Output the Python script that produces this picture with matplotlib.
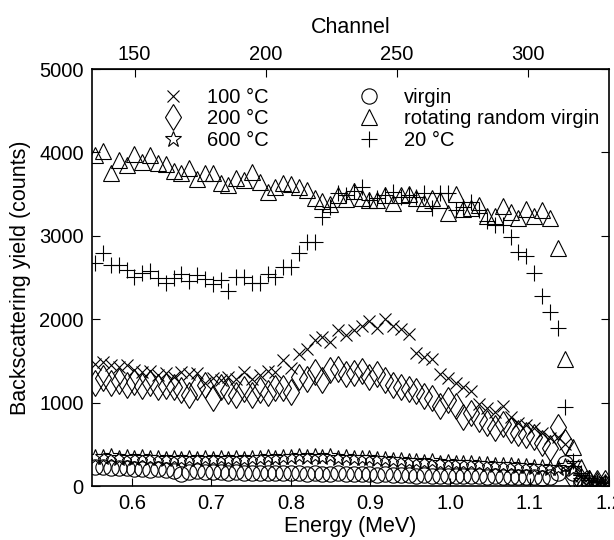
import numpy as np
import matplotlib
matplotlib.use("Agg")
import matplotlib.pyplot as plt

plt.rcParams['font.family'] = ['Liberation Sans', 'DejaVu Sans']

# energy grid of the spectrum points (MeV), 3 channels apart
energy = [0.554 + 0.00985 * i for i in range(66)]

# rotating random virgin (triangles)
random_virgin = [3970, 4020, 3750, 3910, 3850, 3980, 3890, 3970, 3870, 3860,
                 3780, 3750, 3810, 3680, 3750, 3750, 3630, 3610, 3700, 3670,
                 3770, 3650, 3530, 3590, 3630, 3620, 3590, 3550, 3450, 3420,
                 3380, 3490, 3440, 3540, 3450, 3430, 3430, 3490, 3400, 3490,
                 3500, 3450, 3400, 3460, 3430, 3270, 3500, 3320, 3340, 3370,
                 3240, 3240, 3360, 3290, 3210, 3320, 3240, 3310, 3210, 2850,
                 1520, 470, 230, 100, 70, 50]

# 20 C (plus)
t20 = [2675, 2795, 2650, 2650, 2590, 2510, 2555, 2580, 2495, 2435,
       2495, 2540, 2460, 2530, 2480, 2420, 2470, 2340, 2505, 2505,
       2435, 2435, 2540, 2505, 2625, 2625, 2795, 2925, 2925, 3225,
       3345, 3510, 3490, 3540, 3585, 3430, 3455, 3490, 3525, 3465,
       3490, 3465, 3510, 3340, 3510, 3510, 3310, 3345, 3405, 3310,
       3180, 3130, 3130, 2985, 2805, 2760, 2555, 2280, 2090, 1895,
       950, 300, 160, 90, 50, 40]

# 100 C (cross)
t100 = [1463, 1487, 1451, 1427, 1451, 1391, 1367, 1379, 1331, 1355,
        1307, 1367, 1343, 1355, 1230, 1295, 1271, 1307, 1283, 1367,
        1283, 1331, 1380, 1367, 1511, 1415, 1583, 1643, 1751, 1787,
        1727, 1871, 1811, 1871, 1919, 1979, 1894, 2002, 1919, 1883,
        1823, 1595, 1547, 1523, 1343, 1295, 1235, 1187, 1139, 983,
        935, 887, 959, 827, 755, 731, 695, 635, 575, 587,
        503, 250, 120, 60, 40, 30]

# 200 C (diamond)
t200 = [1235, 1295, 1235, 1259, 1211, 1247, 1199, 1235, 1187, 1199,
        1187, 1151, 1091, 1187, 1211, 1055, 1187, 1139, 1091, 1163,
        1091, 1151, 1115, 1175, 1175, 1127, 1307, 1283, 1367, 1271,
        1391, 1403, 1343, 1355, 1379, 1307, 1343, 1271, 1211, 1187,
        1163, 1139, 1079, 1055, 959, 1031, 959, 827, 875, 803,
        755, 695, 743, 671, 635, 611, 587, 515, 455, 707,
        527, 100, 60, 40, 30, 30]

# 600 C (star)
t600 = [350, 345, 360, 340, 350, 335, 345, 330, 340, 325,
        335, 320, 335, 325, 330, 320, 335, 325, 330, 320,
        335, 340, 345, 335, 350, 345, 360, 350, 365, 345,
        355, 340, 350, 335, 340, 330, 320, 325, 310, 315,
        305, 300, 290, 295, 280, 285, 275, 270, 275, 265,
        260, 255, 250, 250, 240, 235, 230, 225, 215, 210,
        240, 200, 60, 30, 20, 15]

# virgin (circle)
virgin = [230, 225, 220, 215, 210, 205, 205, 195, 200, 190,
          185, 140, 170, 175, 170, 165, 170, 160, 165, 160,
          160, 155, 160, 150, 155, 150, 150, 145, 150, 145,
          140, 150, 145, 140, 145, 140, 135, 140, 135, 130,
          130, 125, 130, 125, 120, 125, 120, 115, 120, 115,
          110, 115, 110, 110, 105, 110, 105, 100, 110, 150,
          270, 150, 40, 30, 20, 20]

xticks = [0.6, 0.7, 0.8, 0.9, 1.0, 1.1, 1.2]
yticks = [0, 1000, 2000, 3000, 4000, 5000]
channel_ticks = [150, 200, 250, 300]


def e2c(e):
    return 150 + (np.asarray(e) - 0.6035) / 0.0033


def c2e(c):
    return 0.6035 + (np.asarray(c) - 150) * 0.0033


fs = 14.5
fig = plt.figure(figsize=(6.14, 5.4), dpi=100)
ax = fig.add_axes([0.150, 0.100, 0.842, 0.772])

kw = dict(linestyle='none', color='black', mfc='none', mew=0.8)
h_x, = ax.plot(energy, t100, marker='x', ms=8, **kw)
h_d, = ax.plot(energy, t200, marker='d', ms=13, **kw)
h_s, = ax.plot(energy, t600, marker='*', ms=12, **kw)
h_o, = ax.plot(energy, virgin, marker='o', ms=11, **kw)
h_t, = ax.plot(energy, random_virgin, marker='^', ms=11, **kw)
h_p, = ax.plot(energy, t20, marker='+', ms=11, **kw)

ax.set_xlim(0.55, 1.2)
ax.set_ylim(0, 5000)
ax.set_xticks(xticks)
ax.set_xticklabels([f"{v:.1f}" for v in xticks])
ax.set_yticks(yticks)
ax.tick_params(direction='in', length=6, width=0.8, labelsize=fs,
               right=True, pad=6)
for sp in ax.spines.values():
    sp.set_linewidth(1.2)
ax.set_xlabel('Energy (MeV)', fontsize=fs + 1, labelpad=2)
ax.set_ylabel('Backscattering yield (counts)', fontsize=fs + 1, labelpad=6)

top = ax.secondary_xaxis('top', functions=(e2c, c2e))
top.set_xticks(channel_ticks)
top.tick_params(direction='in', length=6, width=0.8, labelsize=fs, pad=4)
top.set_xlabel('Channel', fontsize=fs + 1, labelpad=8)

leg_kw = dict(frameon=False, fontsize=fs, numpoints=1, handlelength=1.0,
              borderpad=0, borderaxespad=0, labelspacing=0.12,
              loc='upper left', bbox_transform=fig.transFigure)
leg1 = fig.legend([h_x, h_d, h_s], ['100 °C', '200 °C', '600 °C'],
                  bbox_to_anchor=(163 / 614, 1 - 88 / 540),
                  handletextpad=1.2, **leg_kw)
leg2 = fig.legend([h_o, h_t, h_p],
                  ['virgin', 'rotating random virgin', '20 °C'],
                  bbox_to_anchor=(359 / 614, 1 - 88 / 540),
                  handletextpad=1.25, **leg_kw)

fig.savefig('out.png', dpi=100)
